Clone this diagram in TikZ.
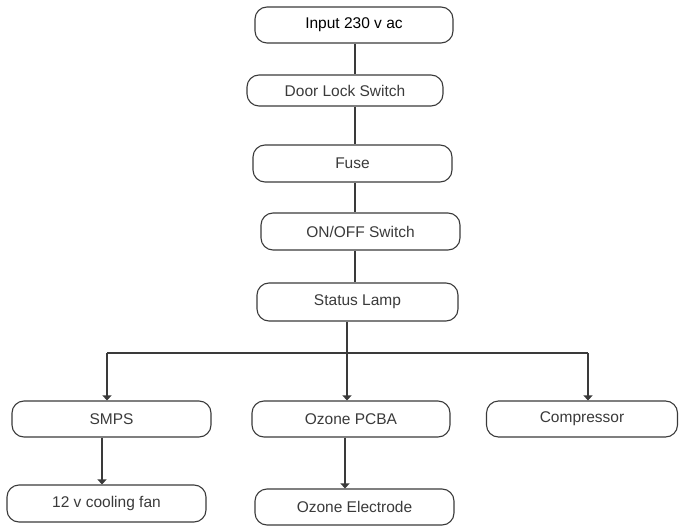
\documentclass[tikz,border=0pt]{standalone}
\usepackage{fontspec}
\setmainfont{Liberation Sans}
\usetikzlibrary{arrows.meta}
\definecolor{ink}{HTML}{3A3A3A}
\begin{document}
\begin{tikzpicture}[x=1pt,y=-1pt,
  box/.style={draw=ink, line width=1.1pt, rounded corners=12pt, inner sep=0pt,
    text=ink, font=\fontsize{15.5}{18}\selectfont},
  link/.style={draw=ink, line width=1.1pt},
  arr/.style={link, -{Triangle[width=9pt,length=5pt]}}]
\useasboundingbox (0,0) rectangle (679,526);
\node[box, text=black, minimum width=198pt, minimum height=36pt] (in) at (354,25) {Input 230 v ac};
\node[box, minimum width=196pt, minimum height=31pt] (door) at (345,90.5) {Door Lock Switch};
\node[box, minimum width=199pt, minimum height=37pt] (fuse) at (352.5,163.5) {Fuse};
\node[box, minimum width=199pt, minimum height=37pt] (onoff) at (360.5,231.5) {ON/OFF Switch};
\node[box, minimum width=201pt, minimum height=38pt] (status) at (357.5,302) {Status Lamp};
\node[box, minimum width=199pt, minimum height=36pt] (smps) at (111.5,419) {SMPS};
\node[box, minimum width=198pt, minimum height=36pt] (pcba) at (351,419) {Ozone PCBA};
\node[box, minimum width=191pt, minimum height=36pt] (comp) at (582,419) {Compressor};
\node[box, minimum width=199pt, minimum height=37pt] (fan) at (106.5,503.5) {12 v cooling fan};
\node[box, minimum width=199pt, minimum height=36pt] (elec) at (354.5,507) {Ozone Electrode};
\coordinate (spine) at (355,0);
\coordinate (bus) at (347,353);
\coordinate (bl) at (107,353);
\coordinate (br) at (588,353);
\coordinate (xf) at (102,0);
\coordinate (xe) at (345,0);
\draw[link] (in.south -| spine) -- (door.north -| spine);
\draw[link] (door.south -| spine) -- (fuse.north -| spine);
\draw[link] (fuse.south -| spine) -- (onoff.north -| spine);
\draw[link] (onoff.south -| spine) -- (status.north -| spine);
\draw[link] (status.south -| bus) -- (bus);
\draw[link] (bl) -- (br);
\draw[arr] (bl) -- (smps.north -| bl);
\draw[arr] (bus) -- (pcba.north -| bus);
\draw[arr] (br) -- (comp.north -| br);
\draw[arr] (smps.south -| xf) -- (fan.north -| xf);
\draw[arr] (pcba.south -| xe) -- (elec.north -| xe);
\end{tikzpicture}
\end{document}
